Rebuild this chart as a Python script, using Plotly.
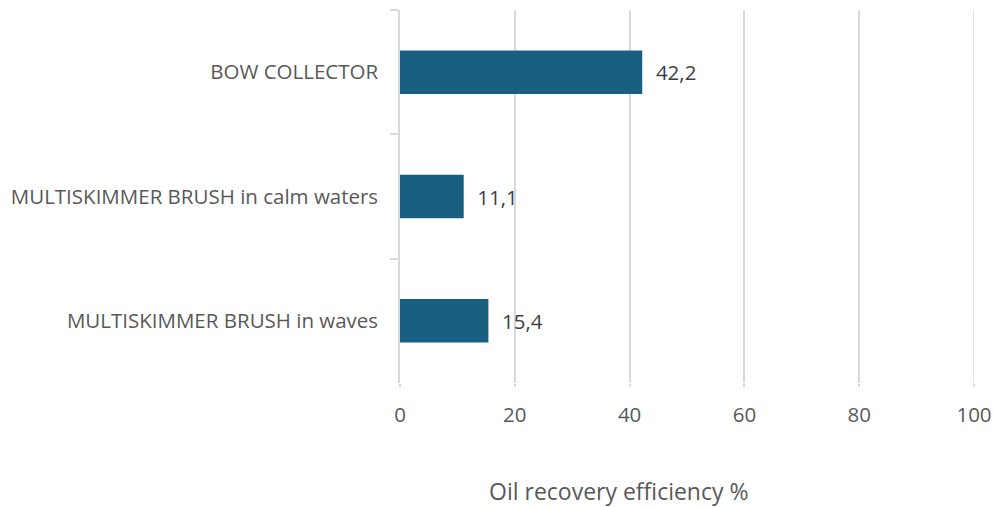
import plotly.graph_objects as go

categories = ["BOW COLLECTOR", "MULTISKIMMER BRUSH in calm waters", "MULTISKIMMER BRUSH in waves"]
values = [42.2, 11.1, 15.4]
x_ticks = [0, 20, 40, 60, 80, 100]
x_title = "Oil recovery efficiency %"

FONT = "Open Sans"
GRID = "#d9d9d9"

fig = go.Figure(go.Bar(
    y=categories,
    x=values,
    orientation="h",
    marker=dict(color="#185F82", line=dict(width=0)),
    width=0.35,
    texttemplate="  %{x:.1f}",
    textposition="outside",
    textfont=dict(family=FONT, size=20.5, color="#404040"),
    cliponaxis=False,
    hoverinfo="skip",
))

fig.update_layout(
    width=993, height=507,
    margin=dict(l=400, r=19, t=10, b=124),
    paper_bgcolor="white", plot_bgcolor="white",
    separators=", ",
    showlegend=False,
    font=dict(family=FONT, size=20, color="#595959"),
    annotations=[dict(
        text=x_title, xref="paper", yref="paper",
        x=0.3815, y=-0.2885, xanchor="center", yanchor="middle",
        borderpad=0,
        showarrow=False, font=dict(family=FONT, size=23, color="#595959"),
    )],
    # Plotly drops the gridline that sits on the plot's right edge; redraw it at the last tick
    shapes=[dict(
        type="line", xref="x", yref="paper",
        x0=x_ticks[-1], x1=x_ticks[-1], y0=0, y1=1,
        line=dict(color=GRID, width=1.5), layer="below",
    )],
)

fig.update_xaxes(
    range=[x_ticks[0], x_ticks[-1]],
    tickvals=x_ticks,
    showgrid=True, gridcolor=GRID, gridwidth=1.5,
    zeroline=False, showline=False,
    ticks="outside", ticklen=3, tickcolor=GRID, tickwidth=1.5,
    ticklabelstandoff=10,
    tickfont=dict(family=FONT, size=20.5, color="#595959"),
    automargin=False,
)

fig.update_yaxes(
    categoryorder="array", categoryarray=categories,
    autorange="reversed",
    tickson="boundaries",
    ticks="outside", ticklen=8, tickcolor=GRID, tickwidth=1.5,
    showline=True, linecolor=GRID, linewidth=1.5,
    showgrid=False, zeroline=False,
    ticklabelstandoff=16,
    tickfont=dict(family=FONT, size=20.5, color="#595959"),
    automargin=False,
)

# remove the browser's default 8px body margin so the figure fills the window exactly
fig.write_html(
    "out.html",
    config={"displayModeBar": False},
    post_script="document.body.style.margin='0';document.body.style.overflow='hidden';",
)
